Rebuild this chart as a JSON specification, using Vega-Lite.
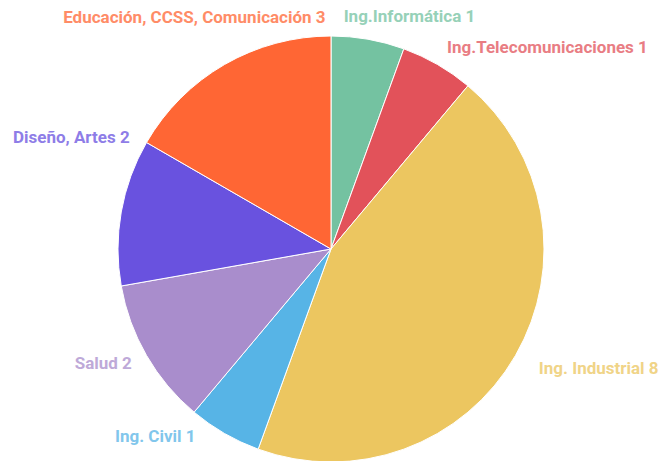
{
  "$schema": "https://vega.github.io/schema/vega-lite/v6.json",
  "width": 662,
  "height": 498,
  "autosize": {"type": "none"},
  "padding": 0,
  "background": "white",
  "config": {"view": {"stroke": null}, "text": {"font": "Roboto", "fontSize": 17, "fontWeight": "bold"}},
  "data": {
    "values": [
      {"orden": 1, "area": "Ing.Informática", "n": 1},
      {"orden": 2, "area": "Ing.Telecomunicaciones", "n": 1},
      {"orden": 3, "area": "Ing. Industrial", "n": 8},
      {"orden": 4, "area": "Ing. Civil", "n": 1},
      {"orden": 5, "area": "Salud", "n": 2},
      {"orden": 6, "area": "Diseño, Artes", "n": 2},
      {"orden": 7, "area": "Educación, CCSS, Comunicación", "n": 3}
    ]
  },
  "transform": [{"calculate": "datum.area + ' ' + datum.n", "as": "label"}],
  "encoding": {
    "theta": {"field": "n", "type": "quantitative", "stack": true},
    "order": {"field": "orden", "type": "quantitative"},
    "color": {
      "field": "area",
      "type": "nominal",
      "legend": null,
      "scale": {
        "domain": ["Ing.Informática", "Ing.Telecomunicaciones", "Ing. Industrial", "Ing. Civil", "Salud", "Diseño, Artes", "Educación, CCSS, Comunicación"],
        "range": ["#74c2a1", "#e2525a", "#ecc660", "#57b4e6", "#a98dcc", "#6952df", "#ff6634"]
      }
    }
  },
  "layer": [
    {"mark": {"type": "arc", "outerRadius": 213, "stroke": "#ffffff", "strokeWidth": 1}},
    {
      "mark": {"type": "text", "radius": 232, "align": "left", "baseline": "middle", "opacity": 0.75},
      "encoding": {"text": {"condition": {"test": "datum.orden == 2", "field": "label"}, "value": ""}}
    },
    {
      "mark": {"type": "text", "radius": 240, "align": "left", "baseline": "middle", "opacity": 0.75},
      "encoding": {"text": {"condition": {"test": "datum.orden == 3", "field": "label"}, "value": ""}}
    },
    {
      "mark": {"type": "text", "radius": 232, "align": "left", "baseline": "middle", "opacity": 0.75, "thetaOffset": -0.12},
      "encoding": {"text": {"condition": {"test": "datum.orden == 1", "field": "label"}, "value": ""}}
    },
    {
      "mark": {"type": "text", "radius": 230, "align": "right", "baseline": "middle", "opacity": 0.75},
      "encoding": {"text": {"condition": {"test": "datum.orden == 5", "field": "label"}, "value": ""}}
    },
    {
      "mark": {"type": "text", "radius": 232, "align": "right", "baseline": "middle", "opacity": 0.75, "thetaOffset": 0.1},
      "encoding": {"text": {"condition": {"test": "datum.orden == 4", "field": "label"}, "value": ""}}
    },
    {
      "mark": {"type": "text", "radius": 230, "align": "right", "baseline": "middle", "opacity": 0.75, "thetaOffset": 0.33},
      "encoding": {"text": {"condition": {"test": "datum.orden == 6", "field": "label"}, "value": ""}}
    },
    {
      "mark": {"type": "text", "radius": 231, "align": "right", "baseline": "middle", "opacity": 0.75, "thetaOffset": 0.5},
      "encoding": {"text": {"condition": {"test": "datum.orden == 7", "field": "label"}, "value": ""}}
    }
  ]
}
